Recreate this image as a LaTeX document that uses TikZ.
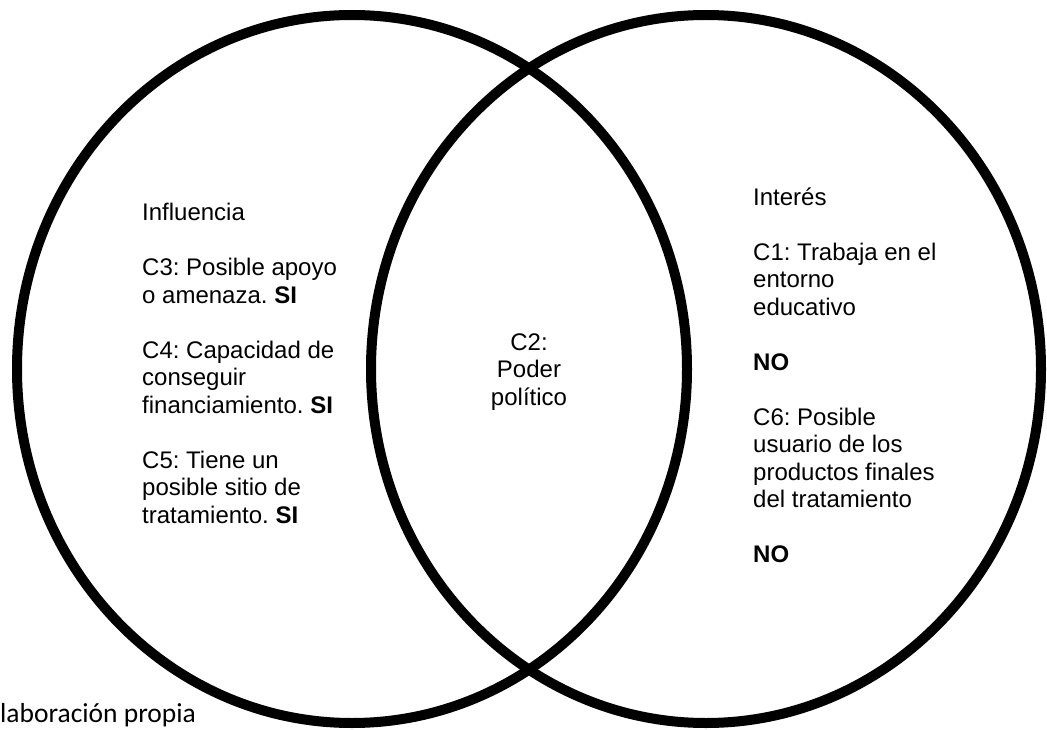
\documentclass[tikz,border=0pt]{standalone}
\usepackage{fontspec}
\setmainfont{Liberation Sans}
\newfontfamily\srcfont{Carlito}
\usetikzlibrary{positioning}
\frenchspacing

\begin{document}
\begin{tikzpicture}[x=1pt,y=-1pt,
                     set/.style={line width=10pt},
                     txt/.style={inner sep=0pt,
                         align=left,
                         font=\fontsize{24}{27.5}\selectfont},
                     mid/.style={inner sep=0pt,
                         align=center,
                         font=\fontsize{24}{27.5}\selectfont}]
    \useasboundingbox (0,0) rectangle (1047,730);
    \coordinate (cl) at (352,369);
    \coordinate (cr) at (706,369);
    \draw[set] (cl) ellipse [x radius=335pt, y radius=354pt];
    \draw[set] (cr) ellipse [x radius=335pt, y radius=354pt];
    % base anchor = baseline of the last line
    \node[txt, anchor=base west](influencia) at (142,523)
        {Influencia\\[27.5pt]
         C3: Posible apoyo\\ o amenaza. \textbf{SI}\\[27.5pt]
         C4: Capacidad de\\ conseguir\\ financiamiento. \textbf{SI}\\[27.5pt]
         C5: Tiene un\\ posible sitio de\\ tratamiento. \textbf{SI}};
    \node[txt, anchor=base west](interes) at (753,562.5)
        {Interés\\[27.5pt]
         C1: Trabaja en el\\ entorno\\ educativo\\[27.5pt]
         \textbf{NO}\\[27.5pt]
         C6: Posible\\ usuario de los\\ productos finales\\ del tratamiento\\[27.5pt]
         \textbf{NO}};
    \node[mid, anchor=base](poder) at (529,405) {C2:\\ Poder\\ político};
    \node[inner sep=0pt, anchor=base west, font=\srcfont\fontsize{27.5}{30}\selectfont](fuente) at (0,722)
        {laboración propia};
\end{tikzpicture}
\end{document}
